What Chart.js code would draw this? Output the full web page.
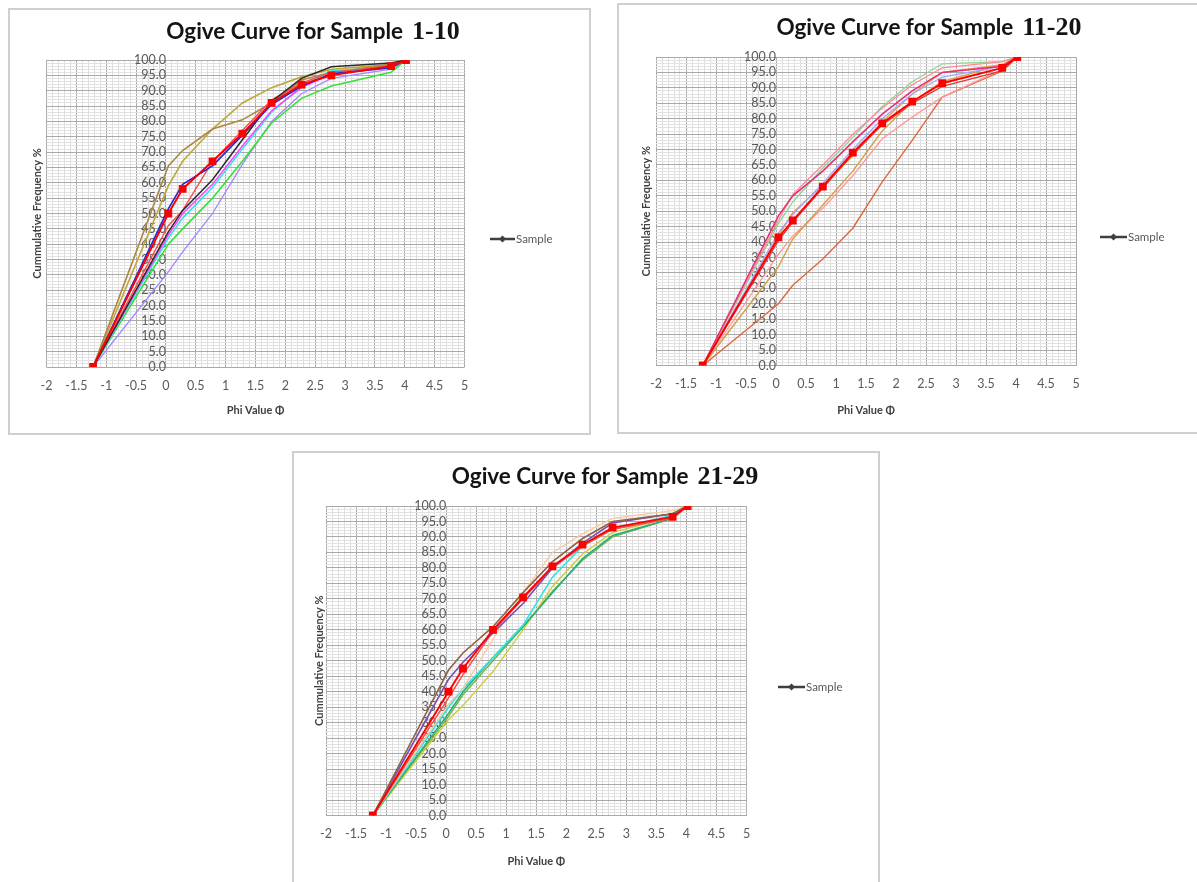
<!DOCTYPE html>
<html><head><meta charset="utf-8">
<script src="https://cdn.jsdelivr.net/npm/chart.js@4/dist/chart.umd.min.js"></script>
<style>
html,body{margin:0;padding:0;background:#fff;}
body{width:1197px;height:882px;position:relative;overflow:hidden;font-family:Lato,sans-serif;}
.box{position:absolute;border:2px solid #cfcfcf;box-sizing:border-box;background:#fff;}
.box canvas{position:absolute;left:0;top:0;}
</style></head><body>
<div class="box" id="b1" style="left:8px;top:8px;width:583px;height:427px"><canvas id="c1"></canvas></div>
<div class="box" id="b2" style="left:617px;top:3px;width:582px;height:431px"><canvas id="c2"></canvas></div>
<div class="box" id="b3" style="left:292px;top:451px;width:588px;height:433px"><canvas id="c3"></canvas></div>
<script>
// ---------- DATA ----------
const PHI = [-1.22, 0.04, 0.28, 0.78, 1.28, 1.77, 2.27, 2.77, 3.77, 4.02];
const X_TICK_STEP = 0.1;
const Y_TICK_STEP = 1;

// Chart 1: Samples 1-10
const S1_red      = [0, 50, 58, 67, 76, 86, 92, 95, 98, 100];
const S1_blue     = [0, 51.5, 59.5, 65.5, 75.5, 85.5, 91.5, 95.5, 97.5, 100];
const S1_brown    = [0, 65.5, 70.5, 77.5, 80.5, 86, 93.5, 96, 98.5, 100];
const S1_olive    = [0, 59, 67, 77.5, 86, 91, 94.5, 97, 98.5, 100];
const S1_black    = [0, 44, 51, 61, 74, 86.5, 94, 97.8, 99, 100];
const S1_red2     = [0, 46, 51, 67, 77, 87, 92.5, 96, 98, 100];
const S1_magenta  = [0, 43, 50, 59.5, 72, 83.5, 91, 95.5, 97.5, 100];
const S1_cyan     = [0, 42, 48.5, 58.5, 71, 83, 91.5, 96.5, 97.5, 100];
const S1_green    = [0, 40, 45, 55, 67, 79.5, 87.5, 91.5, 96, 100];
const S1_lavender = [0, 31, 37.5, 50, 66, 80, 89, 94, 97, 100];

// Chart 2: Samples 11-20
const S2_red        = [0, 41.5, 47, 58, 69, 78.5, 85.5, 91.5, 96.5, 100];
const S2_red2       = [0, 40.5, 46.5, 57.5, 68.5, 78, 85, 90.5, 95.5, 100];
const S2_crimson    = [0, 48.5, 55, 63, 72.5, 81.5, 89, 95, 97, 100];
const S2_pink       = [0, 47, 55.5, 65, 75, 83.5, 91, 96.5, 98.5, 100];
const S2_lightgreen = [0, 46, 53, 64, 74, 84, 92, 97.8, 98.5, 100];
const S2_periwinkle = [0, 43, 49, 59, 70, 80, 88, 93.5, 97, 100];
const S2_orange     = [0, 42, 49.5, 58.5, 68, 79, 88, 95, 97.5, 100];
const S2_ochre      = [0, 32, 41, 52, 63, 76, 85.5, 92, 97.5, 100];
const S2_salmon     = [0, 36, 42, 51, 61.5, 73.5, 80.5, 87, 96, 100];
const S2_rust       = [0, 20, 26, 34.5, 44.5, 59.5, 73, 87, 95.5, 100];

// Chart 3: Samples 21-29
const S3_red    = [0, 40, 47.5, 60, 70.5, 80.5, 87.5, 93, 96.5, 100];
const S3_brown  = [0, 47, 52.5, 61, 72, 82, 89.5, 95, 97.5, 100];
const S3_purple = [0, 44, 49.5, 59, 68.5, 80, 88, 94.5, 97.5, 100];
const S3_red2   = [0, 38, 45.5, 59.5, 70, 80, 87, 92.5, 96, 100];
const S3_peach  = [0, 36, 41, 57, 72, 85, 91, 96, 98.5, 100];
const S3_cyan   = [0, 35, 41, 51, 61.5, 77, 87, 92.5, 97, 100];
const S3_teal   = [0, 33, 40, 51, 61, 72, 83, 90.5, 96, 100];
const S3_yellow = [0, 31, 35.5, 46.5, 60, 74, 84.5, 91.5, 96.5, 100];
const S3_green  = [0, 32, 39, 50, 61, 72.5, 82.5, 90, 96, 100];

const TITLES = ['1-10', '11-20', '21-29'];
const TITLE_PREFIX = 'Ogive Curve for Sample';
const X_TITLE = 'Phi Value \u03A6';
const Y_TITLE = 'Cummulative Frequency %';
const LEGEND_LABEL = 'Sample';

// ---------- STYLES / LAYOUT ----------
const SERIES = [
  [ [S1_red,'#ff0000',1.9,true],[S1_blue,'#2a2ad6',1.7],[S1_black,'#2a2a2a',1.5],[S1_red2,'#ff4a4a',1.4],
    [S1_magenta,'#ff3cff',1.4],[S1_cyan,'#2ee6e6',1.5],[S1_brown,'#ae8640',1.6],[S1_olive,'#bda83a',1.6],
    [S1_green,'#38e038',1.6],[S1_lavender,'#a486ff',1.3] ],
  [ [S2_red,'#ff0000',1.9,true],[S2_red2,'#e23a3a',1.4],[S2_crimson,'#e2307c',1.6],[S2_pink,'#ff8898',1.3],
    [S2_lightgreen,'#8cd890',1.3],[S2_periwinkle,'#a0a4ff',1.3],[S2_orange,'#f0a040',1.4],[S2_ochre,'#d3a048',1.4],
    [S2_salmon,'#ff9a9a',1.3],[S2_rust,'#dc6a3e',1.4] ],
  [ [S3_red,'#ff0000',1.9,true],[S3_brown,'#8e6446',1.6],[S3_purple,'#7850b4',1.6],[S3_red2,'#ff4848',1.4],
    [S3_peach,'#fcc89e',1.3],[S3_cyan,'#34e2e2',1.6],[S3_teal,'#24b07e',1.6],[S3_yellow,'#cccc38',1.4],
    [S3_green,'#74b246',1.4] ]
];

const LAYOUT = [
  {canvas:'c1', box:{l:8,t:8,w:583,h:427}, area:{l:46.5,r:464.5,t:60,b:367},
   title:{cx:313,base:39}, xTitleY:410, yTitleX:37, legend:{x1:490,x2:515,y:239}},
  {canvas:'c2', box:{l:617,t:3,w:582,h:431}, area:{l:656,r:1076,t:57,b:365.5},
   title:{cx:929,base:35}, xTitleY:410, yTitleX:646, legend:{x1:1100,x2:1127,y:237}},
  {canvas:'c3', box:{l:292,t:451,w:588,h:433}, area:{l:326,r:746.5,t:506,b:815.5},
   title:{cx:605,base:484}, xTitleY:861, yTitleX:319, legend:{x1:778,x2:805,y:687}}
];
const BORDER = 2;
const FONT = 'Lato';

const isMult = (v, m) => Math.abs(v / m - Math.round(v / m)) < 1e-6;

const titlePlugin = {
  id: 'ogiveTitle',
  afterDraw(chart, args, o) {
    const ctx = chart.ctx;
    ctx.save();
    const f1 = 'bold 22.5px ' + FONT, f2 = 'bold 26px "Liberation Serif"';
    ctx.font = f1; const w1 = ctx.measureText(o.prefix).width;
    ctx.font = f2; const w2 = ctx.measureText(o.suffix).width;
    const gap = 9;
    const x0 = o.cx - (w1 + gap + w2) / 2;
    ctx.fillStyle = '#141414';
    ctx.textBaseline = 'alphabetic';
    ctx.textAlign = 'left';
    ctx.font = f1; ctx.fillText(o.prefix, x0, o.base);
    ctx.font = f2; ctx.fillText(o.suffix, x0 + w1 + gap, o.base);
    ctx.restore();
  }
};
const legendPlugin = {
  id: 'ogiveLegend',
  afterDraw(chart, args, o) {
    const ctx = chart.ctx;
    ctx.save();
    ctx.strokeStyle = '#3f3f3f'; ctx.lineWidth = 2.5;
    ctx.beginPath(); ctx.moveTo(o.x1, o.y); ctx.lineTo(o.x2, o.y); ctx.stroke();
    const mx = (o.x1 + o.x2) / 2, s = 3.5;
    ctx.fillStyle = '#3f3f3f';
    ctx.beginPath(); ctx.moveTo(mx, o.y - s); ctx.lineTo(mx + s, o.y); ctx.lineTo(mx, o.y + s); ctx.lineTo(mx - s, o.y); ctx.closePath(); ctx.fill();
    ctx.font = '11.5px ' + FONT; ctx.fillStyle = '#595959'; ctx.textBaseline = 'middle'; ctx.textAlign = 'left';
    ctx.fillText(o.label, o.x2 + 1, o.y);
    ctx.restore();
  }
};

function build(i) {
  const L = LAYOUT[i];
  const cv = document.getElementById(L.canvas);
  const cw = L.box.w - 2 * BORDER, ch = L.box.h - 2 * BORDER;
  cv.width = cw; cv.height = ch;
  cv.style.width = cw + 'px'; cv.style.height = ch + 'px';
  const ox = L.box.l + BORDER, oy = L.box.t + BORDER;
  const a = {l: L.area.l - ox, r: L.area.r - ox, t: L.area.t - oy, b: L.area.b - oy};
  const tSize = 11, tLH = tSize * 1.2, tPad = 4;
  const axisBottom = (L.xTitleY - oy) + tLH / 2 + tPad;
  const padLeft = (L.yTitleX - ox) - tPad - tLH / 2;

  const datasets = SERIES[i].map(([vals, color, w, marker]) => ({
    label: LEGEND_LABEL,
    data: vals.map((v, k) => ({x: PHI[k], y: v})),
    borderColor: color, backgroundColor: color, borderWidth: w,
    pointRadius: marker ? 5.5 : 0, pointStyle: 'rect', pointBorderWidth: 0,
    pointBackgroundColor: '#ff0000', tension: 0, fill: false
  }));

  new Chart(cv, {
    type: 'scatter',
    data: {datasets},
    options: {
      responsive: false, animation: false, showLine: true,
      layout: {padding: {left: padLeft, top: a.t, right: cw - a.r, bottom: ch - axisBottom}},
      plugins: {
        legend: {display: false}, tooltip: {enabled: false}, title: {display: false},
        ogiveTitle: {prefix: TITLE_PREFIX, suffix: TITLES[i], cx: L.title.cx - ox, base: L.title.base - oy},
        ogiveLegend: {label: LEGEND_LABEL, x1: L.legend.x1 - ox, x2: L.legend.x2 - ox, y: L.legend.y - oy}
      },
      scales: {
        x: {
          type: 'linear', position: 'bottom', min: -2, max: 5,
          afterFit: s => { s.height = axisBottom - a.b; },
          border: {display: false},
          grid: {drawTicks: false, lineWidth: 1,
                 color: c => isMult(c.tick.value, 0.5) ? '#a9a9a9' : '#dedede'},
          ticks: {stepSize: X_TICK_STEP, autoSkip: false, maxRotation: 0, padding: 11, maxTicksLimit: 500,
                  color: '#5a5a5a', font: {family: FONT, size: 12.5},
                  callback: v => isMult(v, 0.5) ? String(Math.round(v * 10) / 10) : ''},
          title: {display: true, text: X_TITLE, color: '#404040', font: {family: FONT, size: tSize, weight: 'bold'}, padding: tPad}
        },
        y: {
          type: 'linear', position: {x: 0}, min: 0, max: 100,
          border: {display: false},
          grid: {drawTicks: false, lineWidth: 1,
                 color: c => isMult(c.tick.value, 5) ? '#a9a9a9' : '#e2e2e2'},
          ticks: {stepSize: Y_TICK_STEP, autoSkip: false, padding: 10, maxTicksLimit: 500,
                  color: '#5a5a5a', font: {family: FONT, size: 12.5},
                  callback: v => isMult(v, 5) ? (Math.round(v)).toFixed(1) : ''}
        },
        yT: {
          type: 'linear', position: 'left', min: 0, max: 1,
          afterFit: s => { s.width = a.l - padLeft; },
          border: {display: false}, grid: {display: false}, ticks: {display: false},
          title: {display: true, text: Y_TITLE, color: '#404040', font: {family: FONT, size: tSize, weight: 'bold'}, padding: tPad}
        }
      }
    },
    plugins: [titlePlugin, legendPlugin]
  });
}

const ready = (document.fonts && document.fonts.load)
  ? Promise.all([document.fonts.load('bold 20px Lato'), document.fonts.load('11px Lato'), document.fonts.load('bold 24px "Liberation Serif"')]).catch(() => {})
  : Promise.resolve();
ready.then(() => { build(0); build(1); build(2); });
</script>
</body></html>
